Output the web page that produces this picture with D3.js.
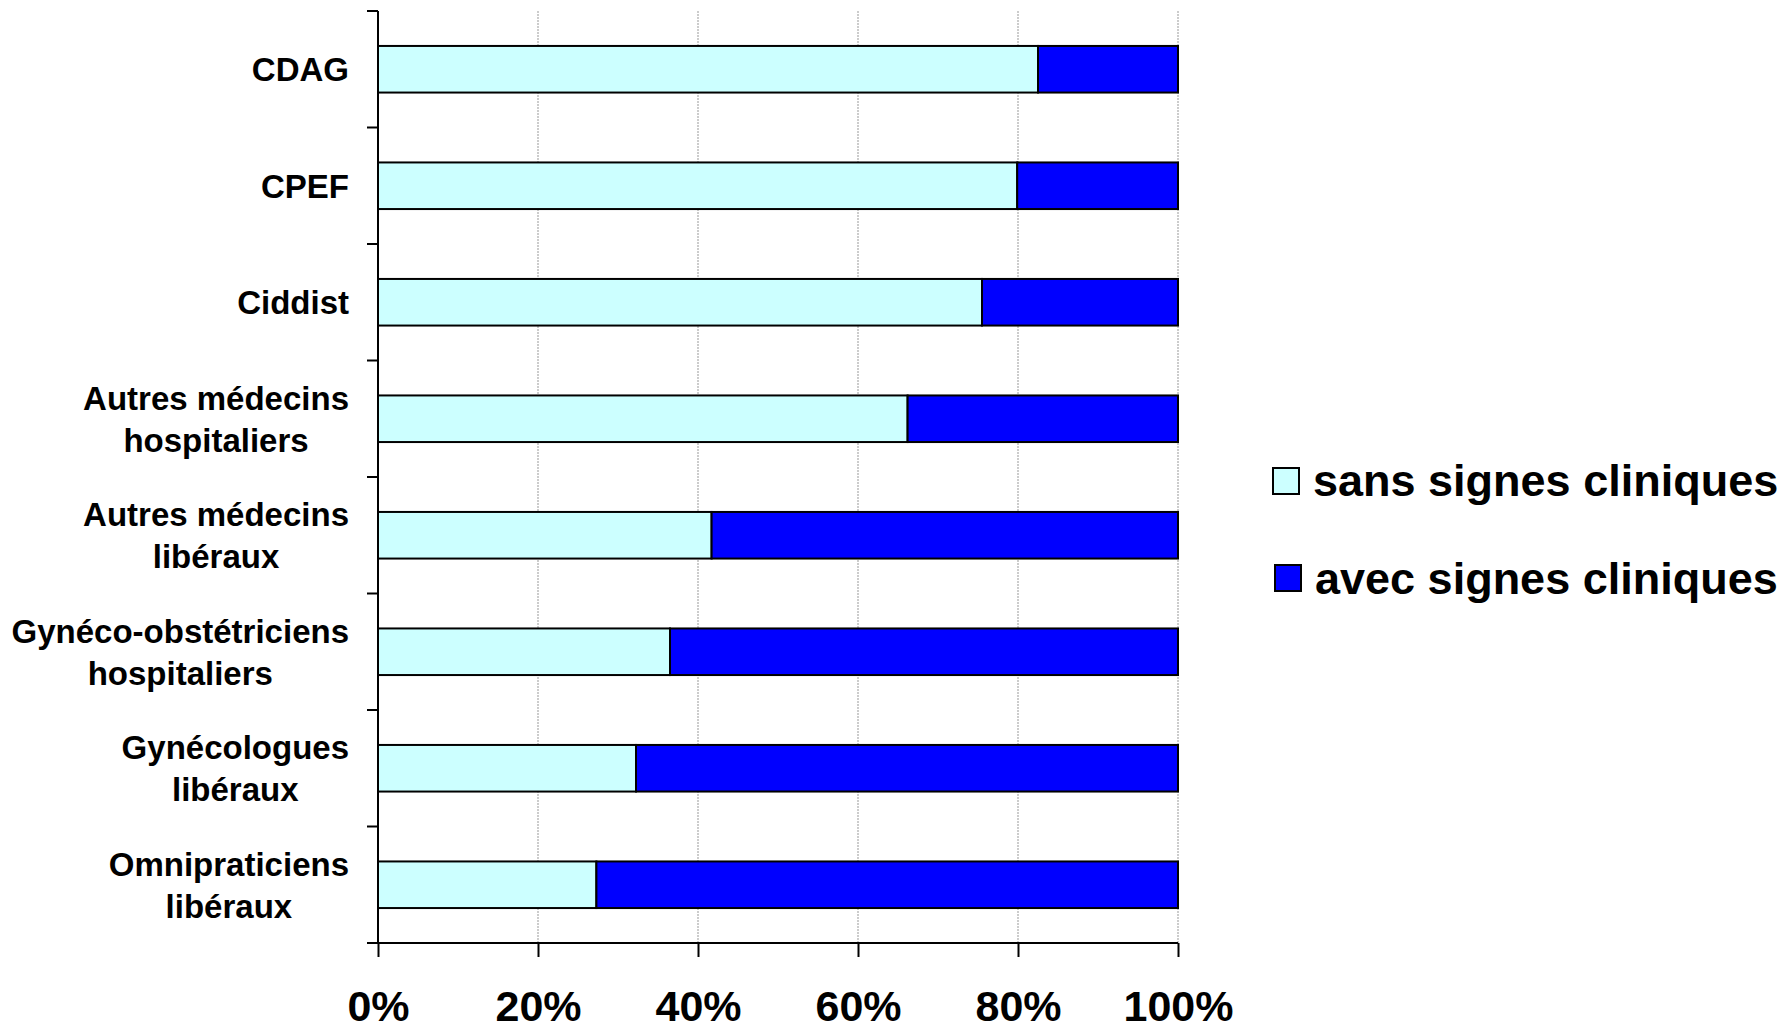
<!DOCTYPE html>
<html>
<head>
<meta charset="utf-8">
<script src="https://cdn.jsdelivr.net/npm/d3@7"></script>
<style>
  html, body { margin: 0; padding: 0; background: #fff; }
  svg { display: block; font-family: "Liberation Sans", Arial, sans-serif; font-weight: bold; }
</style>
</head>
<body>
<svg id="chart" width="1783" height="1029"></svg>
<script>
// Categories, top to bottom; each label may span two lines
const categories = [
  "CDAG",
  "CPEF",
  "Ciddist",
  "Autres médecins hospitaliers",
  "Autres médecins libéraux",
  "Gynéco-obstétriciens hospitaliers",
  "Gynécologues libéraux",
  "Omnipraticiens libéraux"
];
const labelLines = [
  ["CDAG"],
  ["CPEF"],
  ["Ciddist"],
  ["Autres médecins", "hospitaliers"],
  ["Autres médecins", "libéraux"],
  ["Gynéco-obstétriciens", "hospitaliers"],
  ["Gynécologues", "libéraux"],
  ["Omnipraticiens", "libéraux"]
];
// Share of cases without clinical signs (the rest have clinical signs)
const sansSignes = [0.825, 0.799, 0.755, 0.662, 0.417, 0.365, 0.3225, 0.273];
const avecSignes = sansSignes.map(v => 1 - v);

const seriesNames = ["sans signes cliniques", "avec signes cliniques"];
const seriesColors = ["#CCFFFF", "#0000FF"];
const tickValues = [0, 0.2, 0.4, 0.6, 0.8, 1.0];

const svg = d3.select("#chart");

const x = d3.scaleLinear().domain([0, 1]).range([378, 1178]);
const y = d3.scaleBand().domain(categories).range([11, 943])
  .paddingInner(0.6).paddingOuter(0.3);

const rows = categories.map((c, i) => ({ cat: c, sans: sansSignes[i], avec: avecSignes[i], lines: labelLines[i] }));

// Vertical gridlines
svg.append("g").selectAll("line").data(tickValues.slice(1)).join("line")
  .attr("x1", d => x(d)).attr("x2", d => x(d))
  .attr("y1", y.range()[0]).attr("y2", y.range()[1])
  .attr("stroke", "#999").attr("stroke-width", 1).attr("stroke-dasharray", "2,1");

// Stacked bars
const stack = d3.stack().keys(["sans", "avec"]);
const stacked = stack(rows);
svg.append("g").selectAll("g").data(stacked).join("g")
  .attr("fill", (d, i) => seriesColors[i])
  .selectAll("rect").data(d => d).join("rect")
  .attr("x", d => x(d[0]))
  .attr("width", d => x(d[1]) - x(d[0]))
  .attr("y", d => y(d.data.cat))
  .attr("height", y.bandwidth())
  .attr("stroke", "#000").attr("stroke-width", 2);

// Left axis line with ticks between categories
const step = y.step();
const first = y(categories[0]) - (step - y.bandwidth()) / 2;
const bounds = d3.range(categories.length + 1).map(i => first + i * step);
svg.append("line")
  .attr("x1", x(0)).attr("x2", x(0))
  .attr("y1", bounds[0]).attr("y2", bounds[bounds.length - 1])
  .attr("stroke", "#000").attr("stroke-width", 2);
svg.append("g").selectAll("line").data(bounds).join("line")
  .attr("x1", x(0) - 11).attr("x2", x(0))
  .attr("y1", d => d).attr("y2", d => d)
  .attr("stroke", "#000").attr("stroke-width", 2);

// Bottom axis
const xAxis = d3.axisBottom(x).tickValues(tickValues)
  .tickFormat(d3.format(".0%")).tickSizeInner(14).tickSizeOuter(0).tickPadding(33);
const gx = svg.append("g").attr("transform", `translate(0,${bounds[bounds.length - 1]})`).call(xAxis);
gx.select(".domain").attr("stroke", "#000").attr("stroke-width", 2)
  .attr("d", `M${x(0) - 11},0H${x(1)}`);
gx.selectAll(".tick line").attr("stroke", "#000").attr("stroke-width", 2);
gx.selectAll(".tick text")
  .attr("fill", "#000").attr("font-size", 43).attr("font-weight", "bold")
  .attr("font-family", "'Liberation Sans', Arial, sans-serif")
  .attr("dy", "0.71em");

// Category labels: lines centred on each other, block right-aligned to the axis
const lineGap = 42;
const labelRight = 349;
const lab = svg.append("g").attr("font-size", 33).attr("text-anchor", "middle").attr("fill", "#000");
rows.forEach(r => {
  const cy = y(r.cat) + y.bandwidth() / 2;
  const n = r.lines.length;
  const g = lab.append("g");
  const texts = r.lines.map((t, j) => g.append("text")
    .attr("x", 0)
    .attr("y", cy + (j - (n - 1) / 2) * lineGap)
    .attr("dy", "0.36em")
    .text(t));
  const maxW = d3.max(texts, s => s.node().getComputedTextLength());
  g.attr("transform", `translate(${labelRight - maxW / 2},0)`);
});

// Legend
const legend = svg.append("g");
const legendPos = [{ x: 1273, y: 468, tx: 1313, ty: 496 }, { x: 1275, y: 565, tx: 1315, ty: 594 }];
seriesNames.forEach((name, i) => {
  const p = legendPos[i];
  legend.append("rect")
    .attr("x", p.x).attr("y", p.y).attr("width", 26).attr("height", 26)
    .attr("fill", seriesColors[i]).attr("stroke", "#000").attr("stroke-width", 2);
  legend.append("text")
    .attr("x", p.tx).attr("y", p.ty)
    .attr("font-size", 45).attr("fill", "#000")
    .text(name);
});
</script>
</body>
</html>
